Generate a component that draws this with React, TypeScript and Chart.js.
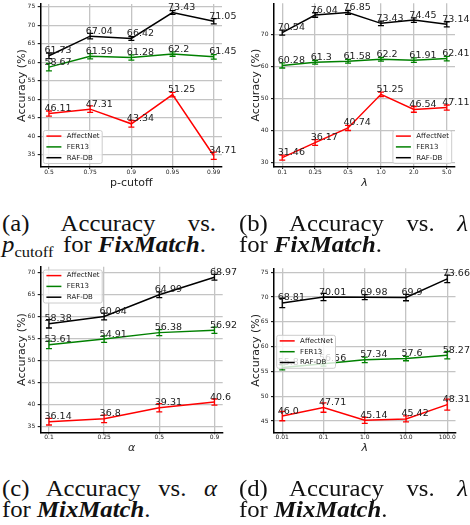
import React, { useEffect, useRef } from "react";
import { Chart, registerables } from "chart.js";

Chart.register(...registerables);

const SERIES_NAMES = ["AffectNet", "FER13", "RAF-DB"];
const SERIES_COLORS = ["#ff0000", "#008000", "#000000"];

// (a) FixMatch: accuracy vs p-cutoff
const A_X = ["0.5", "0.75", "0.9", "0.95", "0.99"];
const A_AFFECTNET = [46.11, 47.31, 43.34, 51.25, 34.71];
const A_AFFECTNET_ERR = [0.7, 0.9, 0.9, 0.6, 1.0];
const A_FER13 = [58.67, 61.59, 61.28, 62.2, 61.45];
const A_FER13_ERR = [1.0, 0.7, 0.7, 0.6, 0.6];
const A_RAFDB = [61.73, 67.04, 66.42, 73.43, 71.05];
const A_RAFDB_ERR = [0.75, 0.75, 0.5, 0.5, 0.7];
const A_Y_TICKS = [35, 40, 45, 50, 55, 60, 65, 70, 75];

// (b) FixMatch: accuracy vs lambda
const B_X = ["0.1", "0.25", "0.5", "1.0", "2.0", "5.0"];
const B_AFFECTNET = [31.46, 36.17, 40.74, 51.25, 46.54, 47.11];
const B_AFFECTNET_ERR = [0.8, 0.9, 0.8, 0.7, 0.9, 0.8];
const B_FER13 = [60.28, 61.3, 61.58, 62.2, 61.91, 62.41];
const B_FER13_ERR = [0.8, 0.6, 0.6, 0.6, 0.7, 0.7];
const B_RAFDB = [70.54, 76.04, 76.85, 73.43, 74.45, 73.14];
const B_RAFDB_ERR = [0.8, 0.7, 0.6, 0.7, 0.7, 0.8];
const B_Y_TICKS = [30, 40, 50, 60, 70];

// (c) MixMatch: accuracy vs alpha
const C_X = ["0.1", "0.25", "0.5", "0.9"];
const C_AFFECTNET = [36.14, 36.8, 39.31, 40.6];
const C_AFFECTNET_ERR = [0.75, 0.85, 0.95, 0.7];
const C_FER13 = [53.61, 54.91, 56.38, 56.92];
const C_FER13_ERR = [0.85, 0.75, 0.7, 0.7];
const C_RAFDB = [58.38, 60.04, 64.99, 68.97];
const C_RAFDB_ERR = [0.95, 0.75, 0.65, 0.65];
const C_Y_TICKS = [35, 40, 45, 50, 55, 60, 65, 70];

// (d) MixMatch: accuracy vs lambda
const D_X = ["0.01", "0.1", "1.0", "10.0", "100.0"];
const D_AFFECTNET = [46.0, 47.71, 45.14, 45.42, 48.31];
const D_AFFECTNET_ERR = [0.95, 0.95, 0.6, 0.6, 1.1];
const D_FER13 = [55.8, 56.56, 57.34, 57.6, 58.27];
const D_FER13_ERR = [0.5, 0.5, 0.55, 0.45, 0.75];
const D_RAFDB = [68.81, 70.01, 69.98, 69.9, 73.66];
const D_RAFDB_ERR = [0.95, 0.75, 0.5, 0.65, 0.75];
const D_Y_TICKS = [45, 50, 55, 60, 65, 70, 75];

const GRID = "#c4c4c4";
const SANS = "DejaVu Sans";

function mkSeries(vals: number[][], errs: number[][]) {
  return SERIES_NAMES.map((name, k) => ({ name, color: SERIES_COLORS[k], values: vals[k], errs: errs[k] }));
}

const PANELS = [
  {
    left: 0, top: 0, w: 240, h: 200,
    area: { left: 40.7, top: 4, right: 222, bottom: 167 },
    xLabels: A_X, yMin: 31.67, yMax: 75.73, yTicks: A_Y_TICKS,
    series: mkSeries([A_AFFECTNET, A_FER13, A_RAFDB], [A_AFFECTNET_ERR, A_FER13_ERR, A_RAFDB_ERR]),
    xTitle: "p-cutoff", xItalic: false, xTitleY: 183, yTitleX: 21.7, legend: "lower left",
  },
  {
    left: 235, top: 0, w: 235, h: 200,
    area: { left: 39, top: 3.3, right: 220, bottom: 167 },
    xLabels: B_X, yMin: 28.53, yMax: 79.7, yTicks: B_Y_TICKS,
    series: mkSeries([B_AFFECTNET, B_FER13, B_RAFDB], [B_AFFECTNET_ERR, B_FER13_ERR, B_RAFDB_ERR]),
    xTitle: "λ", xItalic: true, xTitleY: 182.7, yTitleX: 20.7, legend: "lower right",
  },
  {
    left: 0, top: 260, w: 240, h: 200,
    area: { left: 40.7, top: 6.7, right: 222.7, bottom: 172.3 },
    xLabels: C_X, yMin: 33.73, yMax: 71.36, yTicks: C_Y_TICKS,
    series: mkSeries([C_AFFECTNET, C_FER13, C_RAFDB], [C_AFFECTNET_ERR, C_FER13_ERR, C_RAFDB_ERR]),
    xTitle: "α", xItalic: true, xTitleY: 188.3, yTitleX: 21.7, legend: "upper left",
  },
  {
    left: 235, top: 260, w: 235, h: 200,
    area: { left: 39, top: 8.3, right: 220.5, bottom: 172.3 },
    xLabels: D_X, yMin: 42.72, yMax: 75.8, yTicks: D_Y_TICKS,
    series: mkSeries([D_AFFECTNET, D_FER13, D_RAFDB], [D_AFFECTNET_ERR, D_FER13_ERR, D_RAFDB_ERR]),
    xTitle: "λ", xItalic: true, xTitleY: 188.3, yTitleX: 21, legend: "center left",
  },
];

function fmt(v: number) {
  return Number.isInteger(v) ? v.toFixed(1) : String(v);
}

const decorPlugin = {
  id: "decor",
  afterDatasetsDraw(chart: any) {
    const { ctx } = chart;
    const xs = chart.scales.x, ys = chart.scales.y;
    ctx.save();
    chart.data.datasets.forEach((ds: any) => {
      ctx.strokeStyle = ds.borderColor;
      ctx.lineWidth = 1.3;
      ds.data.forEach((p: any, i: number) => {
        const e = ds.errs[i];
        const px = xs.getPixelForValue(p.x);
        const y1 = ys.getPixelForValue(p.y - e);
        const y2 = ys.getPixelForValue(p.y + e);
        ctx.beginPath();
        ctx.moveTo(px, y1); ctx.lineTo(px, y2);
        ctx.moveTo(px - 3, y1); ctx.lineTo(px + 3, y1);
        ctx.moveTo(px - 3, y2); ctx.lineTo(px + 3, y2);
        ctx.stroke();
      });
    });
    ctx.restore();
  },
  afterDraw(chart: any, _args: any, opts: any) {
    const { ctx, chartArea } = chart;
    const xs = chart.scales.x, ys = chart.scales.y;
    ctx.save();
    // value labels
    ctx.font = `9.5px "${SANS}"`;
    ctx.fillStyle = "#222";
    ctx.textAlign = "left";
    ctx.textBaseline = "alphabetic";
    chart.data.datasets.forEach((ds: any) => {
      ds.data.forEach((p: any) => {
        const px = xs.getPixelForValue(p.x);
        const py = ys.getPixelForValue(p.y);
        ctx.fillText(fmt(p.y), px - 4.5, py - 2.5);
      });
    });
    // legend
    ctx.font = `7px "${SANS}"`;
    const names = chart.data.datasets.map((d: any) => d.label);
    const tw = Math.max(...names.map((n: string) => ctx.measureText(n).width));
    const w = 3 + 15 + 5 + tw + 3;
    const rowH = 10.8;
    const h = 33;
    let bx = chartArea.left + 2.7;
    let by = chartArea.bottom - 3.5 - h;
    const pos = opts.legend as string;
    if (pos.includes("right")) bx = chartArea.right - 3.3 - w;
    if (pos.startsWith("upper")) by = chartArea.top + 3.3;
    if (pos.startsWith("center")) by = (chartArea.top + chartArea.bottom) / 2 - h / 2 + 1.5;
    ctx.beginPath();
    (ctx as any).roundRect(bx, by, w, h, 2);
    ctx.fillStyle = "rgba(255,255,255,0.8)";
    ctx.fill();
    ctx.strokeStyle = "#cccccc";
    ctx.lineWidth = 1;
    ctx.stroke();
    ctx.textBaseline = "middle";
    chart.data.datasets.forEach((ds: any, i: number) => {
      const ry = by + 5.6 + i * rowH;
      ctx.strokeStyle = ds.borderColor;
      ctx.lineWidth = 1.5;
      ctx.beginPath();
      ctx.moveTo(bx + 3, ry);
      ctx.lineTo(bx + 18, ry);
      ctx.stroke();
      ctx.fillStyle = "#222";
      ctx.fillText(ds.label, bx + 23.4, ry);
    });
    ctx.restore();
  },
};

function buildConfig(p: any): any {
  const n = p.xLabels.length;
  const m = 0.05 * (n - 1);
  const tickFont = { family: SANS, size: 6 };
  const tSize = 11;
  const lh = tSize * 1.2;
  const zero = (s: any) => {
    s.paddingLeft = 0; s.paddingRight = 0; s.paddingTop = 0; s.paddingBottom = 0;
  };
  return {
    type: "line",
    data: {
      datasets: p.series.map((s: any) => ({
        label: s.name,
        data: s.values.map((v: number, i: number) => ({ x: i, y: v })),
        errs: s.errs,
        borderColor: s.color,
        backgroundColor: s.color,
        borderWidth: 1.5,
        pointRadius: 0,
        tension: 0,
        fill: false,
      })),
    },
    options: {
      responsive: false,
      animation: false,
      devicePixelRatio: 1,
      events: [],
      layout: { padding: { left: 0, top: p.area.top, right: p.w - p.area.right, bottom: 0 } },
      plugins: {
        legend: { display: false },
        tooltip: { enabled: false },
        decor: { legend: p.legend },
      },
      scales: {
        x: {
          type: "linear",
          min: -m,
          max: n - 1 + m,
          afterBuildTicks: (s: any) => {
            s.ticks = p.xLabels.map((_: string, i: number) => ({ value: i }));
          },
          afterFit: (s: any) => {
            s.height = p.h - p.area.bottom;
            zero(s);
          },
          ticks: {
            font: tickFont, color: "#222", padding: 0, maxRotation: 0, autoSkip: false,
            callback: (v: number) => p.xLabels[v] ?? "",
          },
          grid: { color: GRID, lineWidth: 1.3, tickLength: 2, tickColor: "#000", tickWidth: 1 },
          border: { display: true, color: "#000", width: 1.5 },
          title: {
            display: true, text: p.xTitle, color: "#222",
            font: { family: SANS, size: 11, style: p.xItalic ? "italic" : "normal" },
            padding: { top: 0, bottom: p.h - p.xTitleY - (11 * 1.2) / 2 },
          },
        },
        y: {
          type: "linear",
          min: p.yMin,
          max: p.yMax,
          afterBuildTicks: (s: any) => {
            s.ticks = p.yTicks.map((v: number) => ({ value: v }));
          },
          afterFit: (s: any) => {
            s.width = p.area.left;
            zero(s);
          },
          ticks: { font: tickFont, color: "#222", padding: 2.5 },
          grid: { color: GRID, lineWidth: 1.3, tickLength: 3, tickColor: "#000", tickWidth: 1 },
          border: { display: true, color: "#000", width: 1.5 },
          title: {
            display: true, text: "Accuracy (%)", color: "#222",
            font: { family: SANS, size: tSize },
            padding: { top: p.yTitleX - lh / 2, bottom: 0 },
          },
        },
      },
    },
    plugins: [decorPlugin],
  };
}

function Panel({ p }: { p: any }) {
  const ref = useRef<HTMLCanvasElement>(null);
  useEffect(() => {
    const chart = new Chart(ref.current as HTMLCanvasElement, buildConfig(p));
    return () => chart.destroy();
  }, []);
  return (
    <canvas
      ref={ref}
      width={p.w}
      height={p.h}
      style={{ position: "absolute", left: p.left, top: p.top, width: p.w, height: p.h }}
    />
  );
}

const SX = 1.1;
const CAP: React.CSSProperties = {
  position: "absolute",
  fontFamily: '"Liberation Serif", serif',
  fontSize: 22.5,
  lineHeight: "21px",
  height: 21,
  color: "#111",
  whiteSpace: "nowrap",
  transform: `scaleX(${SX})`,
  transformOrigin: "left top",
};
const JUST: React.CSSProperties = { ...CAP, whiteSpace: "normal", textAlign: "justify", textAlignLast: "justify" as any };
const BI: React.CSSProperties = { fontWeight: "bold", fontStyle: "italic" };

export default function App() {
  return (
    <div style={{ position: "absolute", left: 0, top: 0, width: 470, height: 525, background: "#fff", overflow: "hidden" }}>
      {PANELS.map((p, i) => (
        <Panel key={i} p={p} />
      ))}
      <div style={{ ...JUST, left: 2, top: 213, width: 214 / SX }}>(a) Accuracy vs.</div>
      <div style={{ ...CAP, left: 2, top: 234 }}>
        <i>p</i>
        <span style={{ fontSize: 15, position: "relative", top: 5, marginRight: 3 }}>cutoff</span> for{" "}
        <span style={BI}>FixMatch</span>.
      </div>
      <div style={{ ...JUST, left: 239, top: 213, width: 229 / SX }}>
        (b) Accuracy vs. <i>λ</i>
      </div>
      <div style={{ ...CAP, left: 239, top: 234 }}>
        for <span style={BI}>FixMatch</span>.
      </div>
      <div style={{ ...JUST, left: 2, top: 478, width: 215 / SX }}>
        (c) Accuracy vs. <i>α</i>
      </div>
      <div style={{ ...CAP, left: 2, top: 499 }}>
        for <span style={BI}>MixMatch</span>.
      </div>
      <div style={{ ...JUST, left: 239, top: 478, width: 229 / SX }}>
        (d) Accuracy vs. <i>λ</i>
      </div>
      <div style={{ ...CAP, left: 239, top: 499 }}>
        for <span style={BI}>MixMatch</span>.
      </div>
    </div>
  );
}
